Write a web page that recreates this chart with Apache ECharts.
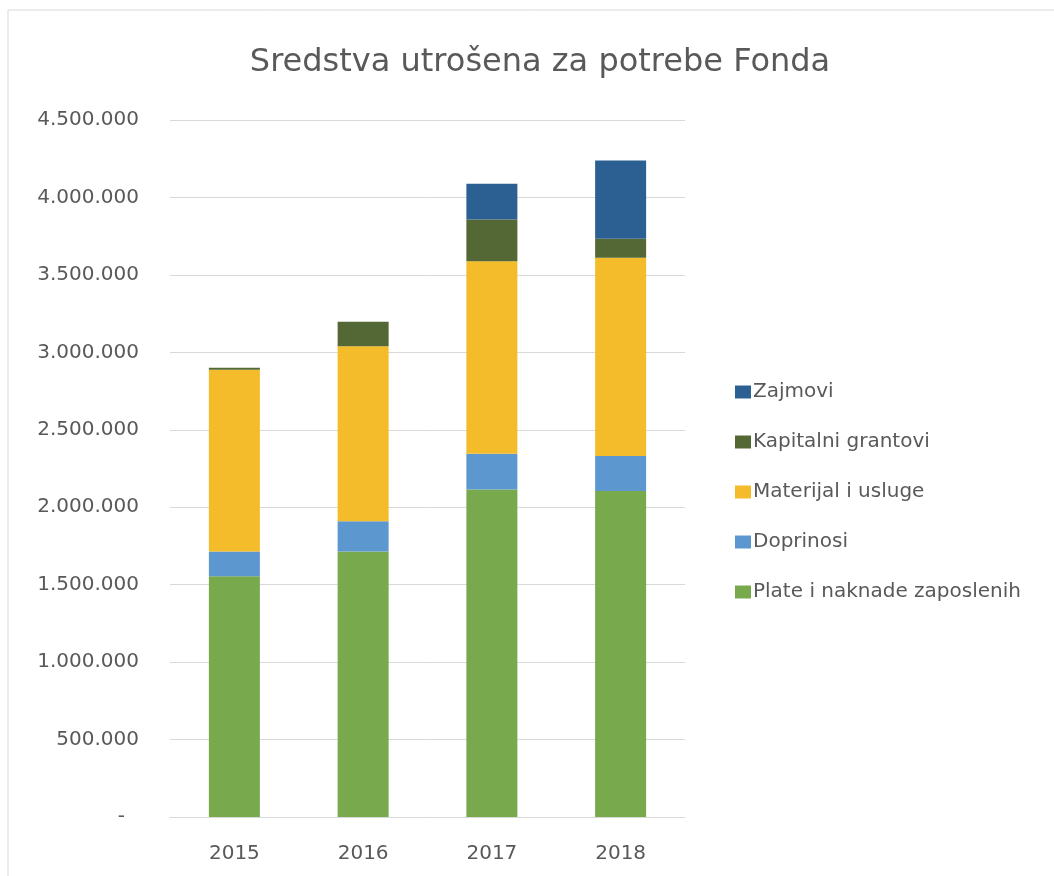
<!DOCTYPE html>
<html>
<head>
<meta charset="utf-8">
<script src="https://cdn.jsdelivr.net/npm/echarts@6/dist/echarts.min.js"></script>
<style>
html,body{margin:0;padding:0;background:#fff;}
#c{width:1054px;height:876px;}
</style>
</head>
<body>
<div id="c"></div>
<script>
const title = 'Sredstva utrošena za potrebe Fonda';
const categories = ['2015', '2016', '2017', '2018'];
const seriesNames = ['Plate i naknade zaposlenih', 'Doprinosi', 'Materijal i usluge', 'Kapitalni grantovi', 'Zajmovi'];
const plate = [1555000, 1714000, 2115000, 2104000];
const doprinosi = [159000, 196000, 230000, 226000];
const materijal = [1173000, 1129000, 1243000, 1281000];
const kapitalni = [13000, 159000, 269000, 123000];
const zajmovi = [0, 0, 232000, 504000];
const yTicks = [0, 500000, 1000000, 1500000, 2000000, 2500000, 3000000, 3500000, 4000000, 4500000];

const colors = ['#78A94C', '#5D97D0', '#F4BC2A', '#546835', '#2D6092'];
const values = [plate, doprinosi, materijal, kapitalni, zajmovi];
const FONT = 'DejaVu Sans';
const TXT = '#595959';

function fmt(v) {
  if (v === 0) return '{d|-}';
  return String(v).replace(/\B(?=(\d{3})+(?!\d))/g, '.');
}

const chart = echarts.init(document.getElementById('c'), null, {renderer: 'canvas'});
chart.setOption({
  animation: false,
  backgroundColor: '#ffffff',
  title: {
    text: title,
    left: 535,
    textAlign: 'center',
    top: 42,
    textStyle: {fontFamily: FONT, fontSize: 32, fontWeight: 'normal', color: TXT}
  },
  graphic: [{
    type: 'rect', silent: true, z: -1,
    shape: {x: 8, y: 10, width: 1100, height: 900},
    style: {fill: 'none', stroke: '#D9D9D9', lineWidth: 1}
  }],
  legend: {
    orient: 'vertical',
    left: 730,
    top: 375,
    itemWidth: 16,
    itemHeight: 13,
    itemGap: 26,
    icon: 'rect',
    data: seriesNames.slice().reverse(),
    textStyle: {fontFamily: FONT, fontSize: 20, color: TXT, lineHeight: 24, padding: [0, 0, 0, -3]}
  },
  grid: {left: 170, right: 369, top: 120, bottom: 59, containLabel: false},
  xAxis: {
    type: 'category',
    data: categories,
    axisLine: {lineStyle: {color: '#D9D9D9', width: 1}},
    axisTick: {show: false},
    axisLabel: {fontFamily: FONT, fontSize: 20, color: TXT, margin: 27}
  },
  yAxis: {
    type: 'value',
    min: yTicks[0],
    max: yTicks[yTicks.length - 1],
    interval: yTicks[1] - yTicks[0],
    axisLine: {show: false},
    axisTick: {show: false},
    splitLine: {lineStyle: {color: '#D9D9D9', width: 1}},
    axisLabel: {
      fontFamily: FONT, fontSize: 20, color: TXT, margin: 31,
      formatter: fmt,
      rich: {d: {fontFamily: FONT, fontSize: 20, color: TXT, padding: [0, 14, 0, 0]}}
    }
  },
  series: seriesNames.map((n, i) => ({
    name: n,
    type: 'bar',
    stack: 'total',
    barWidth: 51,
    data: values[i],
    itemStyle: {color: colors[i]}
  }))
});
</script>
</body>
</html>
